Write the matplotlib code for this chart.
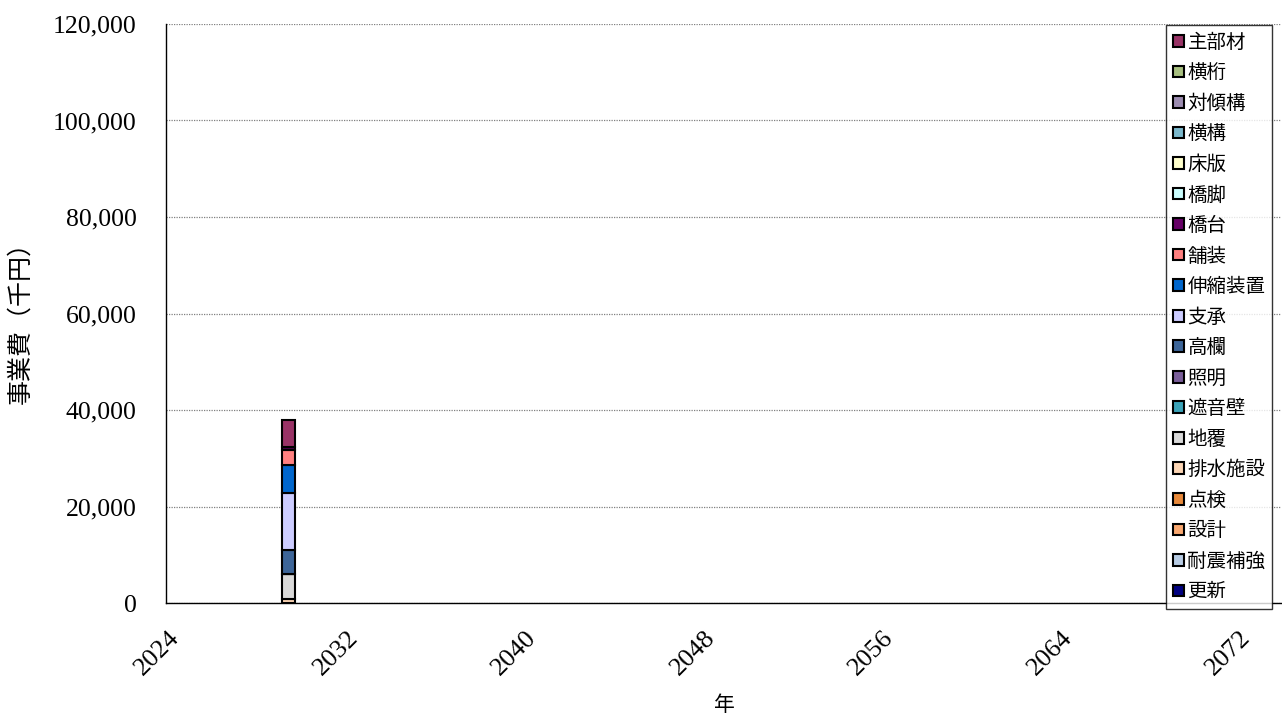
import matplotlib
matplotlib.use("Agg")
import matplotlib.pyplot as plt
import matplotlib.transforms as mtransforms
from matplotlib.ticker import FuncFormatter

plt.rcParams['font.family'] = ['Noto Sans CJK JP', 'DejaVu Sans']

# ---- data ----
years = [2029]
series_names = ['更新', '耐震補強', '設計', '点検', '排水施設', '地覆', '遮音壁', '照明',
                '高欄', '支承', '伸縮装置', '舗装', '橋台', '橋脚', '床版', '横構',
                '対傾構', '横桁', '主部材']
series_values = [0, 0, 0, 0, 800, 5200, 0, 0,
                 5000, 11700, 5850, 3250, 500, 0, 0, 0,
                 0, 0, 5700]
series_colors = ['#000080', '#B8CCE4', '#F9A870', '#E8893A', '#FCD5B4', '#D9D9D9', '#3BA3B8', '#7A5E99',
                 '#3D6598', '#CCCCFF', '#0066CC', '#FF8080', '#660066', '#CCFFFF', '#FFFFCC', '#7BB8CC',
                 '#9C8CB0', '#A8C080', '#993366']
x_ticks = [2024, 2032, 2040, 2048, 2056, 2064, 2072]
y_ticks = [0, 20000, 40000, 60000, 80000, 100000, 120000]

fig = plt.figure(figsize=(12.82, 7.18), dpi=100)
ax = fig.add_axes([166/1282, 1-603/718, 1115/1282, 579/718])

bottom = 0
handles = []
for name, val, col in zip(series_names, series_values, series_colors):
    b = ax.bar(years, [val], bottom=bottom, width=0.6, color=col,
               edgecolor='black', linewidth=1.5, label=name, zorder=3)
    handles.append(b)
    bottom += val

ax.set_xlim(2023.5, 2073.5)
ax.set_ylim(0, 120000)
ax.set_xticks(x_ticks)
ax.set_yticks(y_ticks)
ax.yaxis.set_major_formatter(FuncFormatter(lambda v, p: f'{int(v):,}'))
ax.grid(axis='y', color='#808080', linestyle=(0, (1, 1)), linewidth=0.9, zorder=0)
ax.tick_params(axis='y', length=0, pad=21)
ax.tick_params(axis='x', length=0, pad=17)
for lab in ax.get_yticklabels():
    lab.set_fontfamily('Liberation Serif')
    lab.set_fontsize(18.5)
offset = mtransforms.ScaledTranslation(7/100, 0, fig.dpi_scale_trans)
for lab in ax.get_xticklabels():
    lab.set_fontfamily('Liberation Serif')
    lab.set_fontsize(19)
    lab.set_rotation(45)
    lab.set_ha('right')
    lab.set_va('top')
    lab.set_transform(lab.get_transform() + offset)

for s in ['top', 'right']:
    ax.spines[s].set_visible(False)
ax.spines['left'].set_linewidth(1.0)
ax.spines['bottom'].set_linewidth(1.0)

fig.text(20/1282, 1-316/718, '事業費（千円）', rotation=90, ha='center', va='center', fontsize=18)
fig.text(724/1282, 1-705/718, '年', ha='center', va='center', fontsize=15)

leg = fig.legend(handles[::-1], series_names[::-1], loc='upper left',
                 bbox_to_anchor=(1166/1282, 1-25/718), bbox_transform=fig.transFigure,
                 fontsize=14, frameon=True, fancybox=False, edgecolor='black',
                 handlelength=0.55, handleheight=0.55, handletextpad=0.2,
                 labelspacing=0.49, borderpad=0.35, borderaxespad=0)
leg.get_frame().set_linewidth(1.0)

fig.savefig('out.png', dpi=100)
